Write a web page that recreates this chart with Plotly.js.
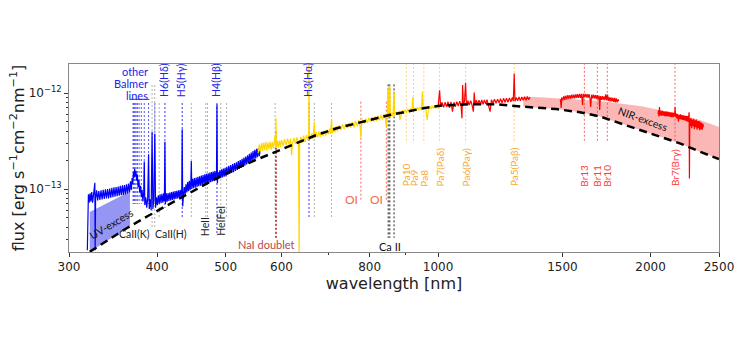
<!DOCTYPE html>
<html><head><meta charset="utf-8">
<script src="https://cdn.plot.ly/plotly-3.0.1.min.js"></script>
<style>html,body{margin:0;padding:0;background:#fff}#chart{width:750px;height:350px}</style>
</head><body><div id="chart"></div>
<script>
// Flux values are in units of 1e-13 erg s^-1 cm^-2 nm^-1
const FLUX_UNIT = 1e-13;

// UVB arm (blue)
const UVB_WL = [318.5,319,319.6,320.4,321.3,322.2,323.1,324,325,326,
326.4,326.7,327.2,328.3,329.4,330.6,331.8,333,334.2,335.4,
336.6,337.8,339,340.2,341.4,342.6,343.8,345,346.2,347.4,
348.6,349.8,351,352.2,353.4,354.6,355.8,357,358.2,359.4,
360.6,361.8,363,364.2,365.4,366.6,367.6,368.6,369.4,370.1,
370.8,371.6,372.4,373.2,374,374.9,375.8,376.8,377.8,378.8,
379.8,380.8,381.8,382.8,383.5,384.2,385.4,386.6,387.8,388.9,
389.8,391,392.2,393.4,394.4,395.6,396.9,397.9,399,400.2,
401.4,402.6,403.8,405,406.2,407.4,408.6,409.5,410.2,410.9,
412,413.2,414.4,415.6,416.8,418,419.2,420.4,421.6,422.8,
424,425.2,426.4,427.6,428.8,430,431.2,432.4,433.4,434,
434.7,435.8,437,438.2,439.4,440.6,441.8,443,444.2,445.4,
446.5,447.1,447.8,449,450.3,451.6,452.9,454.2,455.5,456.8,
458.1,459.4,460.7,462,463.3,464.6,465.9,467.2,468.5,469.8,
471.1,472.4,473.7,475,476.3,477.6,478.9,480.2,481.5,482.8,
484.1,485.4,486.1,486.8,488,489.4,490.8,492.2,493.6,495,
496.4,497.8,499.2,500.6,502,503.6,505.2,506.8,508.4,510,
511.6,513.2,514.8,516.4,518,519.6,521.2,522.8,524.4,526,
527.6,529.2,530.8,532.4,534,535.6,537.2,538.8,540.4,542,
543.6,545.2,546.8,548.4,550,551.6,553.2,554.8,556.4,558,
559.5];
const UVB_FLUX = [0.23,0.70,0.88,0.72,0.90,0.74,0.93,0.72,0.90,1.0,
1.16,0.23,0.80,0.97,0.76,0.95,0.77,0.97,0.78,0.98,
0.79,0.99,0.80,1.0,0.80,1.01,0.81,1.03,0.82,1.04,
0.83,1.05,0.84,1.06,0.85,1.08,0.86,1.09,0.87,1.10,
0.88,1.12,0.90,1.14,0.92,1.20,0.98,1.30,1.12,1.50,
1.30,1.62,1.35,1.55,1.22,1.42,1.05,1.25,0.92,1.08,
0.82,0.98,0.74,0.92,1.93,0.68,0.82,0.64,0.80,2.3,
0.62,0.78,0.60,3.95,0.62,0.78,3.74,0.64,0.82,0.68,
0.86,0.70,0.88,0.71,0.89,0.72,0.90,0.74,3.1,0.70,
0.90,0.74,0.91,0.75,0.92,0.76,0.93,0.77,0.94,0.78,
0.95,0.79,0.96,0.80,0.97,0.81,0.98,0.82,1.0,4.2,
0.66,0.85,1.05,0.88,1.12,0.92,1.18,0.95,1.22,0.97,
1.25,1.96,1.0,1.28,1.02,1.30,1.03,1.32,1.05,1.34,
1.07,1.36,1.08,1.38,1.10,1.40,1.11,1.42,1.13,1.44,
1.14,1.46,1.16,1.48,1.18,1.50,1.20,1.52,1.22,1.54,
1.24,1.56,7.6,1.15,1.50,1.28,1.58,1.30,1.60,1.32,
1.63,1.34,1.66,1.36,1.70,1.40,1.74,1.44,1.78,1.47,
1.82,1.50,1.86,1.54,1.90,1.58,1.95,1.62,2.0,1.66,
2.06,1.70,2.12,1.75,2.18,1.80,2.25,1.85,2.32,1.90,
2.40,1.96,2.48,2.02,2.56,2.08,2.62,2.14,2.66,2.20,
2.5];

// VIS arm (yellow)
const VIS_WL = [556,558,560,562,564,566,568,570,572,574,
576,578,580,582,584,586,587.6,588.5,589.3,590.2,
592,594,596,598,600,603,606,609,612,615,
618,620,622,625,628,631,634,635.5,636.5,639,
642,645,648,651,654,655.7,656.3,657,659,662,
665,667.8,669,672,675,678,681,684,687,690,
693,696,699,702,704,706.5,708,711,714,717,
720,724,728,732,736,740,744,748,752,756,
760,764,768,772,775,777.3,779,782,786,790,
794,798,802,806,810,814,818,822,826,830,
834,838,842,844.6,847,849.8,851.5,854.2,856,860,
863,866.2,868,872,876,880,883,886,890,894,
898,902,906,910,914,918,920.5,923,927,931,
935,939,943,947,950,953,957,961,965,969,
973,977,981,985,989,993,997,1001,1005];
const VIS_FLUX = [2.35,2.9,2.45,3.0,2.5,3.05,2.55,3.1,2.5,3.05,
2.6,3.1,2.55,3.1,2.65,3.15,3.6,2.7,5.5,2.7,
3.15,2.7,3.2,2.75,3.25,2.8,3.3,2.85,3.35,2.9,
3.35,2.25,3.0,3.4,2.95,3.45,3.0,0.2,3.0,3.5,
3.05,3.6,3.1,3.65,3.2,3.8,25,3.5,3.3,3.8,
3.35,5.0,3.4,3.9,3.45,3.95,3.5,4.0,3.55,4.05,
3.6,4.15,3.7,4.25,3.75,5.4,3.8,4.4,3.9,4.5,
4.0,4.6,4.1,4.7,4.2,4.8,4.3,4.9,4.35,5.0,
4.4,5.1,4.5,5.2,4.6,3.45,4.7,5.3,4.8,5.4,
4.9,5.5,5.0,5.6,5.05,5.7,5.1,5.8,5.2,5.9,
5.3,6.0,5.4,4.45,5.5,11.5,5.5,12.0,5.6,6.2,
5.7,10.5,5.8,6.4,5.9,6.5,5.24,6.0,6.6,6.1,
6.7,6.2,6.8,6.3,6.9,6.4,9.1,6.5,7.0,6.5,
7.1,6.6,7.1,6.6,10.3,6.7,7.2,6.75,5.24,6.8,
7.3,6.85,7.35,6.9,7.4,6.95,7.45,7.0,7.3];

// NIR arm (red), three windows
const NIR1_WL = [1000,1004.9,1008,1013,1018,1023,1028,1033,1038,1043,
1048,1053,1058,1063,1068,1073,1078,1081,1083.3,1086,
1090,1093.8,1097,1102,1107,1112,1117,1122,1125,1128,
1133,1138,1143,1148,1153,1158,1163,1168,1173,1178,
1185,1190,1196,1202,1208,1214,1220,1226,1232,1238,
1244,1250,1256,1262,1268,1274,1278,1281.8,1285,1290,
1296,1302,1308,1314,1320,1326,1332,1338,1344,1350];
const NIR1_FLUX = [7.2,10.7,7.4,8.0,7.1,8.0,7.2,8.1,7.0,8.1,
6.4,8.0,7.2,8.1,7.3,8.2,7.3,5.45,12.1,7.4,
8.2,12.8,7.4,8.3,7.5,8.3,7.5,6.4,10.1,7.6,
8.4,7.6,8.4,7.6,8.45,7.6,8.45,7.7,8.5,7.7,
6.4,8.5,7.8,8.6,7.8,8.6,7.9,8.7,7.9,8.8,
8.0,8.8,8.0,8.9,8.1,9.0,8.2,16.0,8.2,9.0,
8.3,9.1,8.3,9.1,8.4,9.15,8.4,9.2,8.5,9.1];
const NIR2_WL = [1490,1494,1497,1502,1507,1512,1517,1522,1527,1532,
1537,1542,1547,1552,1557,1562,1567,1572,1577,1582,
1587,1592,1597,1602,1606,1611,1616,1621,1626,1631,
1636,1641,1645,1650,1655,1660,1665,1670,1675,1680,
1685,1690,1694,1698,1703,1708,1713,1718,1723,1728,
1733,1738,1743,1748,1753,1758,1763,1768,1773,1778,
1783,1788,1793,1798,1802];
const NIR2_FLUX = [8.6,7.0,9.0,8.4,9.3,8.5,9.4,8.6,9.5,8.7,
9.5,8.7,9.6,8.8,9.6,8.8,9.7,8.9,9.7,8.9,
9.8,8.9,9.8,7.5,9.8,9.0,9.8,9.0,9.7,8.9,
9.7,8.9,7.15,9.6,8.8,9.6,8.8,9.5,8.7,9.5,
8.6,9.4,6.65,9.3,8.5,9.3,8.5,9.2,8.4,9.7,
8.4,9.6,8.3,9.0,8.2,9.0,8.2,8.9,8.1,8.9,
8.0,8.8,8.0,8.6,8.2];
const NIR3_WL = [2050,2052,2055,2059,2063,2068,2073,2078,2083,2088,
2093,2098,2103,2108,2113,2118,2123,2128,2133,2138,
2143,2148,2153,2158,2163,2166,2170,2175,2180,2185,
2190,2195,2200,2205,2210,2215,2220,2225,2230,2235,
2240,2245,2250,2255,2260,2265,2268,2270,2273,2277,
2282,2287,2292,2297,2302,2307,2312,2317,2322,2327,
2332,2337,2342,2347,2352,2357,2362,2367,2372,2376];
const NIR3_FLUX = [6.0,6.6,5.7,7.15,5.8,6.5,5.8,6.5,5.8,6.45,
5.75,6.4,5.75,6.4,5.7,6.35,5.7,6.3,5.65,6.3,
5.6,6.25,5.6,6.2,5.7,7.15,5.6,6.1,5.4,6.05,
5.03,5.9,5.35,6.0,5.3,5.9,5.25,5.85,5.2,5.8,
5.15,5.8,5.1,5.75,5.0,5.7,6.3,1.29,5.4,4.5,
5.5,4.3,5.3,4.5,5.4,4.2,5.2,4.4,5.3,4.15,
5.1,4.3,5.1,4.1,5.0,4.2,4.9,4.15,4.8,4.4];

// Photospheric continuum (dashed)
const CONT_WL = [321,339,362,388,403.5,430.6,459.6,490.6,523.8,559,590,630,672.6,718,783,854,952.6,1006,1098,1210,1320,1470,1588,1695,1932,2200,2349,2500];
const CONT_FLUX = [0.222,0.289,0.39,0.523,0.615,0.80,1.04,1.343,1.706,2.09,2.45,2.99,3.65,4.29,5.02,5.9,6.93,7.38,7.62,7.62,7.2,6.8,6.3,5.7,4.12,2.99,2.45,2.05];

// UV-excess band
const UVX_WL = [321,343,366];
const UVX_TOP = [0.576,0.74,0.94];
const UVX_BOTTOM = [0.222,0.30,0.41];

// NIR-excess upper envelope
const NIRX_WL = [1320,1393,1695,1931,2130,2349,2500];
const NIRX_TOP = [9.15,9.02,8.26,7.33,6.34,5.23,4.43];

// Line identifications (nm)
const BALMER_OTHER_WL = [369.7,370.4,371.2,372.2,373.4,375.0,377.1,379.8,383.5,388.9,397.0];
const BALMER_WL = [410.2,434.0,486.1,656.3];
const BALMER_LABELS = ['H6(Hδ)','H5(Hγ)','H4(Hβ)','H3(Hα)'];
const BALMER_BOTTOM = [0.635,0.51,0.33,0.51];
const HE_WL = [402.6,447.1,468.6,471.3,492.2,501.6,587.6,667.8,706.5];
const CAHK_WL = [393.4,396.8];
const NAI_WL = [589.0,589.6];
const OI_WL = [777.4,844.6];
const CAT_WL = [849.8,854.2,866.2];
const PASCHEN_WL = [901.5,922.9,954.6,1004.9,1093.8,1281.8];
const PASCHEN_LABELS = ['Pa10','Pa9','Pa8','Pa7(Paδ)','Pa6(Paγ)','Pa5(Paβ)'];
const BRACKETT_WL = [1611.4,1681.2,1736.7,2166.1];
const BRACKETT_LABELS = ['Br13','Br11','Br10','Br7(Brγ)'];

const Y_TICKS = [1e-13, 1e-12];
const Y_TICKTEXT = ['10<sup>−13</sup>','10<sup>−12</sup>'];
const X_TICKS = [300,400,500,600,800,1000,1500,2000,2500];

// ---------- build ----------
const sc = a => a.map(v => v * FLUX_UNIT);
const LBL = 'Lato, "Noto Sans", sans-serif';
const traces = [];

function vlines(wls, top, bottom, color, width, dash) {
  const x = [], y = [];
  wls.forEach((w, i) => {
    const b = Array.isArray(bottom) ? bottom[i] : bottom;
    const t = Array.isArray(top) ? top[i] : top;
    x.push(w, w, null); y.push(t * FLUX_UNIT, b * FLUX_UNIT, null);
  });
  return {type:'scatter', mode:'lines', x, y, line:{color, width, dash: dash || '2px,2px'}, hoverinfo:'skip'};
}

// fills
traces.push({type:'scatter', mode:'lines', fill:'toself', fillcolor:'rgba(20,20,230,0.45)', line:{width:0},
  x: UVX_WL.concat(UVX_WL.slice().reverse()), y: sc(UVX_TOP.concat(UVX_BOTTOM.slice().reverse())), hoverinfo:'skip'});
const contN = CONT_WL.map((w,i)=>[w,CONT_FLUX[i]]).filter(p=>p[0]>=1320).reverse();
traces.push({type:'scatter', mode:'lines', fill:'toself', fillcolor:'rgba(245,80,80,0.42)', line:{width:0},
  x: NIRX_WL.concat(contN.map(p=>p[0])), y: sc(NIRX_TOP.concat(contN.map(p=>p[1]))), hoverinfo:'skip'});

// identification lines
traces.push(vlines(HE_WL, 7.87, 0.50, '#b0b0b0', 1));
traces.push(vlines(CAHK_WL, 12.1, 0.39, '#b0b0b0', 1));
traces.push(vlines(BALMER_OTHER_WL, 7.87, 0.70, '#5555ff', 1));
traces.push(vlines(BALMER_WL, 7.87, BALMER_BOTTOM, '#3333ff', 1));
traces.push(vlines(NAI_WL, 3.94, 0.31, '#b22222', 1));
traces.push(vlines(OI_WL, 8.12, 0.74, '#ff6347', 1));
traces.push(vlines(CAT_WL, 12.3, 0.31, '#222222', 1));
traces.push(vlines(PASCHEN_WL, 25, 3.0, 'rgba(255,165,0,0.55)', 1));
traces.push(vlines(BRACKETT_WL, 25, 3.04, 'rgba(255,40,40,0.7)', 1));
// underline of "other Balmer lines"
traces.push({type:'scatter', mode:'lines', x:[366,390], y:sc([8.59,8.59]), line:{color:'#3333ff', width:1}, hoverinfo:'skip'});

// spectrum
traces.push({type:'scatter', mode:'lines', x:UVB_WL, y:sc(UVB_FLUX), line:{color:'#0000ff', width:1.2}, hoverinfo:'skip'});
traces.push({type:'scatter', mode:'lines', x:VIS_WL, y:sc(VIS_FLUX), line:{color:'#ffd700', width:1.2}, hoverinfo:'skip'});
[[NIR1_WL,NIR1_FLUX],[NIR2_WL,NIR2_FLUX],[NIR3_WL,NIR3_FLUX]].forEach(s=>{
  traces.push({type:'scatter', mode:'lines', x:s[0], y:sc(s[1]), line:{color:'#ff0000', width:1.2}, hoverinfo:'skip'});
});
// continuum
traces.push({type:'scatter', mode:'lines', x:CONT_WL, y:sc(CONT_FLUX), line:{color:'#000000', width:2.5, dash:'8px,5px'}, hoverinfo:'skip'});

// annotations
const ann = [];
const A = (o) => ann.push(Object.assign({xref:'x', yref:'y', showarrow:false, font:{family:LBL, size:10.5, color:'#222'}}, o));
BALMER_WL.forEach((w,i)=>A({x:Math.log10(w), y:-12.0625, text:BALMER_LABELS[i], textangle:-90, yanchor:'bottom', xshift:-1, font:{family:LBL,size:10.5,color:'#2222ee'}}));
['other','Balmer','lines'].forEach((t,i)=>A({x:Math.log10(390.3), y:[-11.778,-11.899,-12.021][i], text:t, xanchor:'right', yanchor:'middle', font:{family:LBL,size:11,color:'#2222ee'}}));
PASCHEN_WL.forEach((w,i)=>A({x:Math.log10(w), y:-12.993, text:PASCHEN_LABELS[i], textangle:-90, yanchor:'bottom', font:{family:LBL,size:10,color:'#f8a830'}}));
BRACKETT_WL.forEach((w,i)=>A({x:Math.log10(w), y:-12.993, text:BRACKETT_LABELS[i], textangle:-90, yanchor:'bottom', font:{family:LBL,size:10,color:'#ff3a3a'}}));
A({x:Math.log10(468.6), y:-13.51, text:'HeII', textangle:-90, yanchor:'bottom'});
A({x:Math.log10(492.2), y:-13.51, text:'HeIFeI', textangle:-90, yanchor:'bottom'});
A({x:Math.log10(393.4), y:-13.469, text:'CaII(K)', xanchor:'right', yanchor:'middle'});
A({x:Math.log10(396.8), y:-13.469, text:'CaII(H)', xanchor:'left', xshift:-2, yanchor:'middle'});
A({x:Math.log10(572), y:-13.583, text:'NaI doublet', yanchor:'middle', font:{family:LBL,size:11,color:'#b5484a'}});
OI_WL.forEach(w=>A({x:Math.log10(w), y:-13.104, text:'OI', xanchor:'right', xshift:-1, yanchor:'middle', font:{family:LBL,size:12,color:'#f06a4a'}}));
A({x:Math.log10(854.2), y:-13.601, text:'Ca II', yanchor:'middle', font:{family:LBL,size:11,color:'#111'}});
A({x:Math.log10(344.5), y:-13.365, text:'UV-excess', textangle:-31, font:{family:LBL,size:10.5,color:'#111'}});
A({x:Math.log10(1951), y:-12.274, text:'NIR-excess', textangle:20, font:{family:LBL,size:10.5,color:'#111'}});

const layout = {
  width:750, height:350, margin:{l:69, r:31, t:64, b:98},
  paper_bgcolor:'#fff', plot_bgcolor:'#fff', showlegend:false,
  font:{family:'"DejaVu Sans", sans-serif', color:'#222'},
  xaxis:{type:'log', range:[Math.log10(300), Math.log10(2500)], tickmode:'array', tickvals:X_TICKS, ticktext:X_TICKS.map(String),
    ticks:'outside', ticklen:4, tickcolor:'#333', showline:true, mirror:true, linecolor:'#888', linewidth:1,
    showgrid:false, zeroline:false, tickfont:{size:12, color:'#222'},
    minor:{tickmode:'array', tickvals:[700,900], ticks:'outside', ticklen:2, tickcolor:'#333', showgrid:false},
    title:{text:'wavelength [nm]', font:{size:16, color:'#222'}, standoff:0}},
  yaxis:{type:'log', range:[-13.656, -11.698], tickmode:'array', tickvals:Y_TICKS, ticktext:Y_TICKTEXT,
    ticks:'outside', ticklen:4, tickcolor:'#333', showline:true, mirror:true, linecolor:'#888', linewidth:1,
    showgrid:false, zeroline:false, tickfont:{size:12, color:'#222'},
    minor:{tickmode:'array', tickvals:[3e-14,4e-14,5e-14,6e-14,7e-14,8e-14,9e-14,2e-13,3e-13,4e-13,5e-13,6e-13,7e-13,8e-13,9e-13], ticks:'outside', ticklen:2, tickcolor:'#333', showgrid:false},
    title:{text:'flux [erg s<sup>−1</sup>cm<sup>−2</sup>nm<sup>−1</sup>]', font:{size:16, color:'#222'}, standoff:0}},
  annotations: ann
};
Plotly.newPlot('chart', traces, layout, {staticPlot:true, displayModeBar:false});
</script>
</body></html>
